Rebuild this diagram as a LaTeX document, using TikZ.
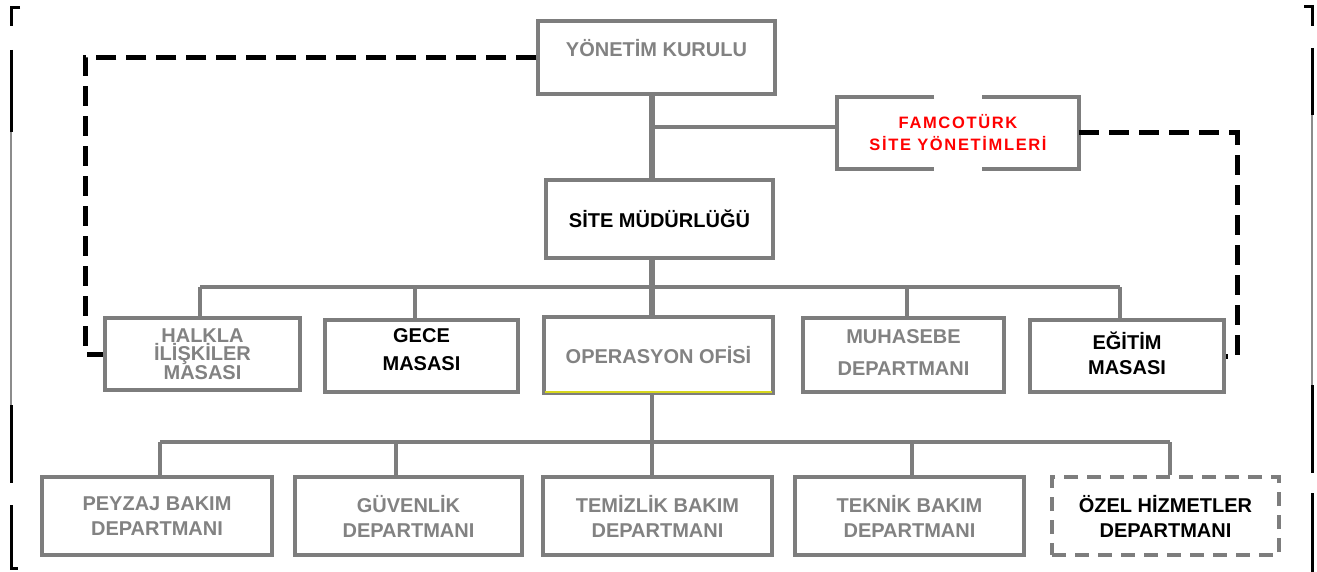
\documentclass[tikz,border=0pt]{standalone}
\usepackage{fontspec}
\setmainfont{Liberation Sans}
\newfontfamily\famfont[LetterSpace=10]{Liberation Sans}
\newcommand\upby[2]{\raisebox{#1pt}[\height][\depth]{#2}}
\definecolor{boxgray}{RGB}{125,125,125}
\definecolor{txtgray}{RGB}{130,130,130}
\definecolor{frgray}{RGB}{140,140,140}
\definecolor{opsyellow}{RGB}{215,215,30}
\begin{document}
\begin{tikzpicture}[x=1pt,y=-1pt,
  box/.style={draw=boxgray, line width=3.5pt, inner sep=0pt, align=center,
    font=\bfseries\fontsize{20}{22}\selectfont, text=txtgray},
  dark/.style={text=black},
  conn/.style={draw=boxgray, line width=3.5pt},
  trunk/.style={draw=boxgray, line width=5.5pt},
  dashconn/.style={draw=black, line width=5pt, dash pattern=on 20pt off 10pt},
  frameblk/.style={draw=black, line width=3pt},
  framegry/.style={draw=frgray, line width=2.5pt}]
\useasboundingbox[fill=white] (0,0) rectangle (1317,572);

% outer frame
\draw[frameblk] (20,8) -- (11,8) -- (11,26);
\draw[frameblk] (11,50) -- (11,132);
\draw[framegry] (11,132) -- (11,405);
\draw[frameblk] (11,405) -- (11,483);
\draw[frameblk] (11,505) -- (11,568) -- (18,568);
\draw[frameblk] (1304,7) -- (1312,7) -- (1312,26);
\draw[frameblk] (1312,48) -- (1312,115);
\draw[framegry] (1312,115) -- (1312,385);
\draw[frameblk] (1312,385) -- (1312,473);
\draw[frameblk] (1312,493) -- (1312,572);

% top level
\node[box, minimum width=237pt, minimum height=73pt] (yk) at (656.5,57.5) {\upby{9}{YÖNETİM KURULU}};
\node[inner sep=0pt, minimum width=242pt, minimum height=72pt, align=center, text=red,
  font=\famfont\bfseries\fontsize{16.5}{22}\selectfont] (famco) at (958,133) {FAMCOTÜRK\\SİTE YÖNETİMLERİ};
\draw[conn] ([xshift=-24pt]famco.north) -- (famco.north west) -- (famco.south west) -- ([xshift=-24pt]famco.south);
\draw[conn] ([xshift=24pt]famco.south) -- (famco.south east) -- (famco.north east) -- ([xshift=24pt]famco.north);
\node[box, dark, minimum width=227pt, minimum height=78pt] (sm) at (659.5,219) {SİTE MÜDÜRLÜĞÜ};

% second row
\node[box, minimum width=195pt, minimum height=72pt, font=\bfseries\fontsize{20}{18.5}\selectfont] (halk) at (202.5,354) {HALKLA\\İLİŞKİLER\\MASASI};
\node[box, dark, minimum width=193pt, minimum height=72pt, font=\bfseries\fontsize{20}{28}\selectfont] (gece) at (421.5,356) {\upby{6}{GECE}\\\upby{6}{MASASI}};
\node[box, minimum width=229pt, minimum height=76pt] (ops) at (658.5,355) {OPERASYON OFİSİ};
\draw[opsyellow, line width=2pt] ([xshift=3pt,yshift=2.5pt]ops.south west) -- ([xshift=-3pt,yshift=2.5pt]ops.south east);
\node[box, minimum width=201pt, minimum height=74pt, font=\bfseries\fontsize{20}{32}\selectfont] (muh) at (903.5,355) {\upby{2}{MUHASEBE}\\\upby{2}{DEPARTMANI}};
\node[box, dark, minimum width=194pt, minimum height=72pt, font=\bfseries\fontsize{20}{25}\selectfont] (egt) at (1127,356) {\upby{3}{EĞİTİM}\\\upby{3}{MASASI}};

% third row
\tikzset{rowthree/.style={box, minimum width=229pt, minimum height=78pt, font=\bfseries\fontsize{20}{25}\selectfont}}
\node[rowthree, minimum width=230pt] (pey) at (157,516) {PEYZAJ BAKIM\\DEPARTMANI};
\node[rowthree, minimum width=227pt] (guv) at (408.5,516) {GÜVENLİK\\DEPARTMANI};
\node[rowthree] (tem) at (657.5,516) {TEMİZLİK BAKIM\\DEPARTMANI};
\node[rowthree] (tek) at (909.5,516) {TEKNİK BAKIM\\DEPARTMANI};
\node[rowthree, dark, minimum width=227pt, dash pattern=on 14pt off 9pt] (ozel) at (1165.5,516) {ÖZEL HİZMETLER\\DEPARTMANI};

% connectors
\coordinate (tx) at (652,0);
\coordinate (j1) at (652,127);
\coordinate (b1) at (652,287);
\coordinate (b2) at (652,442);
\draw[trunk] (yk.south -| tx) -- (sm.north -| tx);
\draw[conn] (j1) -- (j1 -| famco.west);
\draw[trunk] (sm.south -| tx) -- (ops.north -| tx);
\draw[conn] (b1 -| 200,0) -- (b1 -| 1120,0);
\draw[conn] (b1 -| 200,0) -- (halk.north -| 200,0);
\draw[conn] (b1 -| 415,0) -- (gece.north -| 415,0);
\draw[conn] (b1 -| 907,0) -- (muh.north -| 907,0);
\draw[conn] (b1 -| 1120,0) -- (egt.north -| 1120,0);
\draw[conn] (ops.south -| tx) -- (tem.north -| tx);
\draw[conn] (b2 -| 160,0) -- (b2 -| 1170,0);
\draw[conn] (b2 -| 160,0) -- (pey.north -| 160,0);
\draw[conn] (b2 -| 396,0) -- (guv.north -| 396,0);
\draw[conn] (b2 -| 912,0) -- (tek.north -| 912,0);
\draw[conn] (b2 -| 1170,0) -- (ozel.north -| 1170,0);

% dashed links
\coordinate (dL) at (85,0);
\coordinate (dR) at (1237,0);
\draw[dashconn] (yk.west) -- (yk.west -| dL) -- (halk.west -| dL) -- (halk.west);
\draw[dashconn] (famco.east) -- (famco.east -| dR) -- (egt.east -| dR) -- (egt.east);
\end{tikzpicture}
\end{document}
